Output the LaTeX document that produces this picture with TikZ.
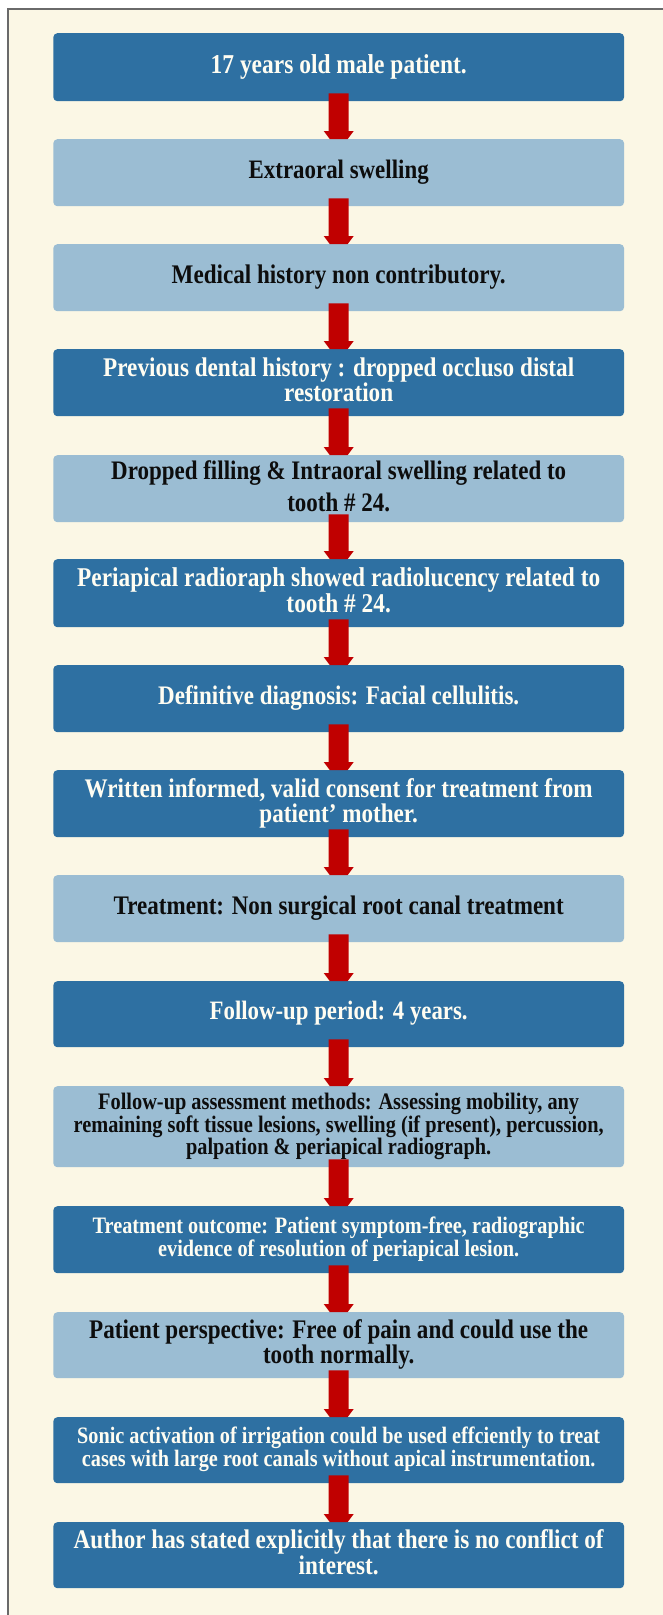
\documentclass[tikz,border=0pt]{standalone}
\usepackage{fontspec}
\setmainfont{Liberation Serif}[FakeStretch=0.86]
\usetikzlibrary{calc}
\definecolor{darkbox}{HTML}{2E70A2}
\definecolor{lightbox}{HTML}{9BBDD3}
\definecolor{cream}{HTML}{FBF7E5}
\definecolor{arrowred}{HTML}{C00000}
\definecolor{framegray}{HTML}{6A6A6A}
\definecolor{lighttext}{HTML}{FFFDF2}
\definecolor{darktext}{HTML}{0D0D0D}
\newlength\fitlen
% #1 target width of first line, #2 line spacing, #3 first line (measured), #4 full text
\newcommand\boxtxt[4]{%
  \settowidth\fitlen{\fontsize{10pt}{12pt}\selectfont #3}%
  \pgfmathsetmacro\fsz{10*#1/\fitlen}%
  \fontsize{\fsz pt}{#2pt}\selectfont
  \begin{tabular}{@{}c@{}}#4\end{tabular}}
\tikzset{
  flowbox/.style={rounded corners=4pt, minimum width=570.7pt, inner sep=0pt,
    anchor=north, font=\bfseries},
  darkstep/.style={flowbox, fill=darkbox, text=lighttext},
  lightstep/.style={flowbox, fill=lightbox, text=darktext},
  redarrow/.style={fill=arrowred, draw=none}
}
\begin{document}
\begin{tikzpicture}[x=1pt,y=1pt]
\useasboundingbox (0,0) rectangle (663,-1615);
\fill[white] (0,0) rectangle (663,-1615);
\fill[cream] (8,-9) rectangle (663,-1615);
\draw[framegray, line width=1.3pt] (8,-1615) -- (8,-9) -- (663,-9);

\node[darkstep, minimum height=68pt] (b1) at (338.7,-33)
  {\boxtxt{256}{24}{17 years old male patient.}{17 years old male patient.}};
\node[lightstep, minimum height=67pt] (b2) at (338.7,-139)
  {\boxtxt{180}{24}{Extraoral swelling}{Extraoral swelling}};
\node[lightstep, minimum height=67pt] (b3) at (338.7,-244)
  {\boxtxt{334}{24}{Medical history non contributory.}{Medical history non contributory.}};
\node[darkstep, minimum height=67pt] (b4) at (338.7,-349)
  {\boxtxt{471}{22}{Previous dental history : dropped occluso distal}{Previous dental history : dropped occluso distal\\restoration}};
\node[lightstep, minimum height=67pt] (b5) at (338.7,-455)
  {\boxtxt{455}{32}{Dropped filling \& Intraoral swelling related to}{Dropped filling \& Intraoral swelling related to\\tooth \# 24.}};
\node[darkstep, minimum height=68pt] (b6) at (338.7,-559)
  {\boxtxt{523}{22}{Periapical radioraph showed radiolucency related to}{Periapical radioraph showed radiolucency related to\\tooth \# 24.}};
\node[darkstep, minimum height=67pt] (b7) at (338.7,-665)
  {\boxtxt{361}{24}{Definitive diagnosis: Facial cellulitis.}{Definitive diagnosis: Facial cellulitis.}};
\node[darkstep, minimum height=67pt] (b8) at (338.7,-770)
  {\boxtxt{508}{22}{Written informed, valid consent for treatment from}{Written informed, valid consent for treatment from\\patient' mother.}};
\node[lightstep, minimum height=67pt] (b9) at (338.7,-875)
  {\boxtxt{450}{24}{Treatment: Non surgical root canal treatment}{Treatment: Non surgical root canal treatment}};
\node[darkstep, minimum height=66pt] (b10) at (338.7,-981)
  {\boxtxt{258}{24}{Follow-up period: 4 years.}{Follow-up period: 4 years.}};
\node[lightstep, minimum height=81pt] (b11) at (338.7,-1086)
  {\boxtxt{481}{20}{Follow-up assessment methods: Assessing mobility, any}{Follow-up assessment methods: Assessing mobility, any\\remaining soft tissue lesions, swelling (if present), percussion,\\palpation \& periapical radiograph.}};
\node[darkstep, minimum height=67pt] (b12) at (338.7,-1206)
  {\boxtxt{492}{20}{Treatment outcome: Patient symptom-free, radiographic}{Treatment outcome: Patient symptom-free, radiographic\\evidence of resolution of periapical lesion.}};
\node[lightstep, minimum height=66pt] (b13) at (338.7,-1312)
  {\boxtxt{499}{23}{Patient perspective: Free of pain and could use the}{Patient perspective: Free of pain and could use the\\tooth normally.}};
\node[darkstep, minimum height=66pt] (b14) at (338.7,-1417)
  {\boxtxt{523}{22}{Sonic activation of irrigation could be used effciently to treat}{Sonic activation of irrigation could be used effciently to treat\\cases with large root canals without apical instrumentation.}};
\node[darkstep, minimum height=66pt] (b15) at (338.7,-1522)
  {\boxtxt{530}{23}{Author has stated explicitly that there is no conflict of}{Author has stated explicitly that there is no conflict of\\interest.}};

\foreach \a/\b in {b1/b2,b2/b3,b3/b4,b4/b5,b5/b6,b6/b7,b7/b8,b8/b9,b9/b10,b10/b11,b11/b12,b12/b13,b13/b14,b14/b15}{
  \path[redarrow] ($(\a.south)+(-10,8)$) -- ($(\a.south)+(10,8)$)
    -- ($(\b.north)+(10,8)$) -- ($(\b.north)+(15,8)$) -- ($(\b.north)+(9,0)$)
    -- ($(\b.north)+(-9,0)$) -- ($(\b.north)+(-15,8)$) -- ($(\b.north)+(-10,8)$) -- cycle;
}
\end{tikzpicture}
\end{document}
